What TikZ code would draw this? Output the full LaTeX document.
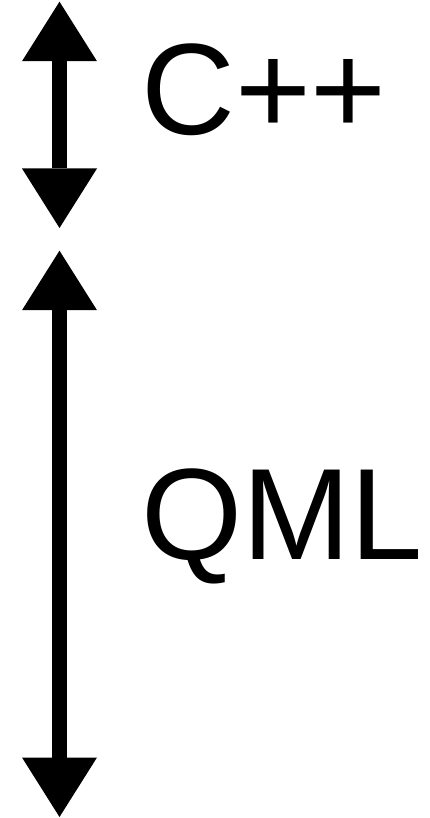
\documentclass[tikz,border=0pt]{standalone}
\usepackage{fontspec}
\setmainfont{Liberation Sans}
\usetikzlibrary{arrows.meta}
\begin{document}
\begin{tikzpicture}[x=1pt,y=-1pt,
  dblarrow/.style={line width=15pt,
    {Triangle[width=75pt,length=59.5pt,line width=0pt]}-{Triangle[width=75pt,length=59.5pt,line width=0pt]}},
  bigtext/.style={inner sep=0pt,anchor=base west,font=\fontsize{130pt}{130pt}\selectfont}]
\useasboundingbox (0,0) rectangle (429,818);
\coordinate (a1) at (59.5,1.7);
\coordinate (a2) at (59.5,228);
\coordinate (b1) at (59.5,250.7);
\coordinate (b2) at (59.5,817);
\draw[dblarrow] (a1) -- (a2);
\draw[dblarrow] (b1) -- (b2);
\node[bigtext] (cpp) at (141,135) {C++};
\node[bigtext] (qml) at (141,559) {QML};
\end{tikzpicture}
\end{document}
